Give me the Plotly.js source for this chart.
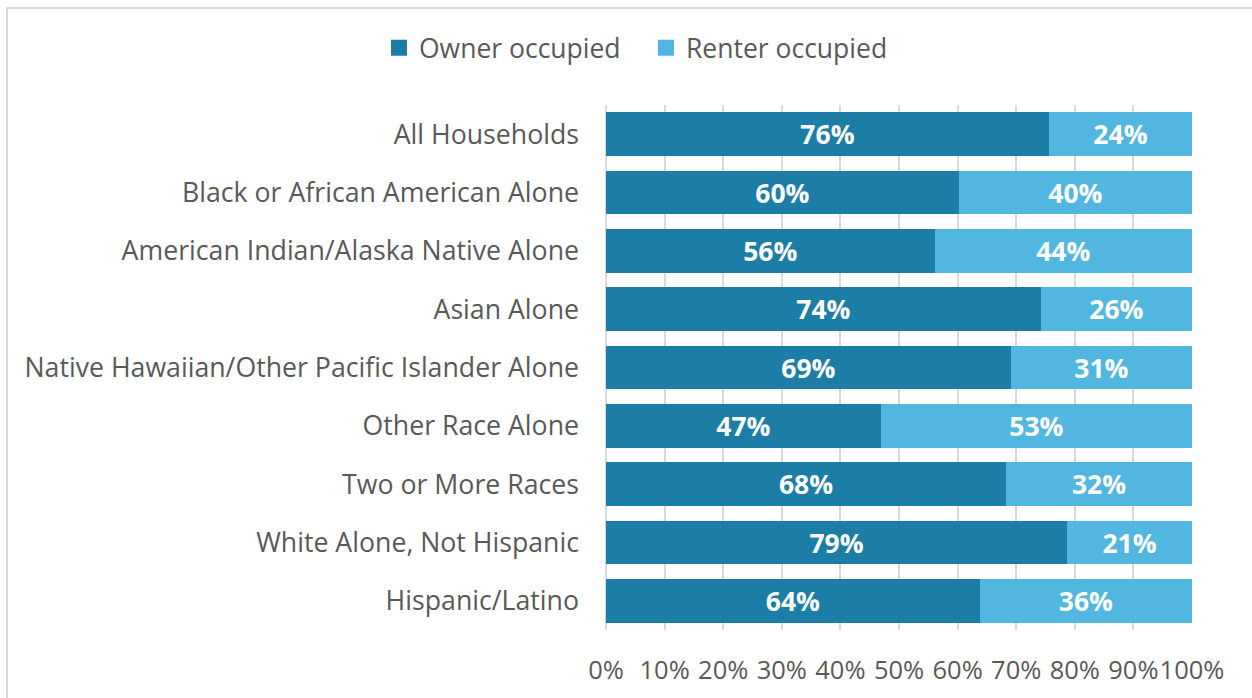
<!DOCTYPE html>
<html>
<head>
<meta charset="utf-8">
<script src="https://cdn.plot.ly/plotly-3.0.1.min.js"></script>
<style>
  html, body { margin: 0; padding: 0; background: #ffffff; overflow: hidden; }
  #frame { position: absolute; left: 6px; top: 7px; width: 1400px; height: 900px; border: 2px solid #d9d9d9; box-sizing: border-box; }
  #chart { position: absolute; left: 0; top: 0; width: 1252px; height: 698px; }
</style>
</head>
<body>
<div id="frame"></div>
<div id="chart"></div>
<script>
var categories = [
  "All Households",
  "Black or African American Alone",
  "American Indian/Alaska Native Alone",
  "Asian Alone",
  "Native Hawaiian/Other Pacific Islander Alone",
  "Other Race Alone",
  "Two or More Races",
  "White Alone, Not Hispanic",
  "Hispanic/Latino"
];
var ownerOccupied = [75.6, 60.2, 56.1, 74.2, 69.1, 46.9, 68.3, 78.7, 63.8];
var renterOccupied = [24.4, 39.8, 43.9, 25.8, 30.9, 53.1, 31.7, 21.3, 36.2];
var ownerLabels = ["76%", "60%", "56%", "74%", "69%", "47%", "68%", "79%", "64%"];
var renterLabels = ["24%", "40%", "44%", "26%", "31%", "53%", "32%", "21%", "36%"];
var seriesNames = ["Owner occupied", "Renter occupied"];
var seriesColors = ["#1c7ea6", "#52b7e0"];

var FONT = "Open Sans, Segoe UI, DejaVu Sans, sans-serif";
var labelFont = {family: FONT, size: 26.5, color: "#ffffff", weight: "bold"};

function barTrace(vals, labels, name, color) {
  return {
    type: "bar",
    orientation: "h",
    y: categories,
    x: vals,
    name: name,
    text: labels,
    texttemplate: "<b>%{text}</b>",
    textposition: "inside",
    insidetextanchor: "middle",
    insidetextfont: labelFont,
    textangle: 0,
    constraintext: "none",
    marker: {color: color, line: {width: 0}},
    showlegend: false,
    hoverinfo: "skip"
  };
}
function legendTrace(name, color) {
  return {
    type: "scatter",
    mode: "markers",
    x: [null],
    y: [null],
    name: name,
    marker: {symbol: "square", size: 16, color: color},
    showlegend: true,
    hoverinfo: "skip"
  };
}

var data = [
  barTrace(ownerOccupied, ownerLabels, seriesNames[0], seriesColors[0]),
  barTrace(renterOccupied, renterLabels, seriesNames[1], seriesColors[1]),
  legendTrace(seriesNames[0], seriesColors[0]),
  legendTrace(seriesNames[1], seriesColors[1])
];

var layout = {
  width: 1252,
  height: 698,
  paper_bgcolor: "rgba(0,0,0,0)",
  plot_bgcolor: "rgba(0,0,0,0)",
  margin: {l: 606, r: 60, t: 105, b: 68, pad: 0},
  barmode: "stack",
  bargap: 0.25,
  font: {family: FONT, size: 26.5, color: "#595959"},
  xaxis: {
    range: [0, 100],
    dtick: 10,
    tick0: 0,
    ticksuffix: "%",
    tickangle: 0,
    showgrid: true,
    gridcolor: "#d9d9d9",
    gridwidth: 2,
    zeroline: true,
    zerolinecolor: "#d9d9d9",
    zerolinewidth: 2,
    showline: false,
    ticks: "",
    ticklabelstandoff: 22,
    tickfont: {family: FONT, size: 25.5, color: "#595959"},
    fixedrange: true
  },
  yaxis: {
    autorange: "reversed",
    showgrid: false,
    zeroline: false,
    showline: false,
    ticks: "",
    ticklabelstandoff: 26,
    tickfont: {family: FONT, size: 26.7, color: "#595959"},
    fixedrange: true
  },
  legend: {
    orientation: "h",
    traceorder: "normal",
    xref: "container",
    yref: "container",
    x: 646 / 1252,
    xanchor: "center",
    y: 1 - 48 / 698,
    yanchor: "middle",
    font: {family: FONT, size: 26.5, color: "#595959"},
    entrywidth: 222,
    bgcolor: "rgba(0,0,0,0)"
  },
  showlegend: true
};

Plotly.newPlot("chart", data, layout, {displayModeBar: false, staticPlot: true});
</script>
</body>
</html>
